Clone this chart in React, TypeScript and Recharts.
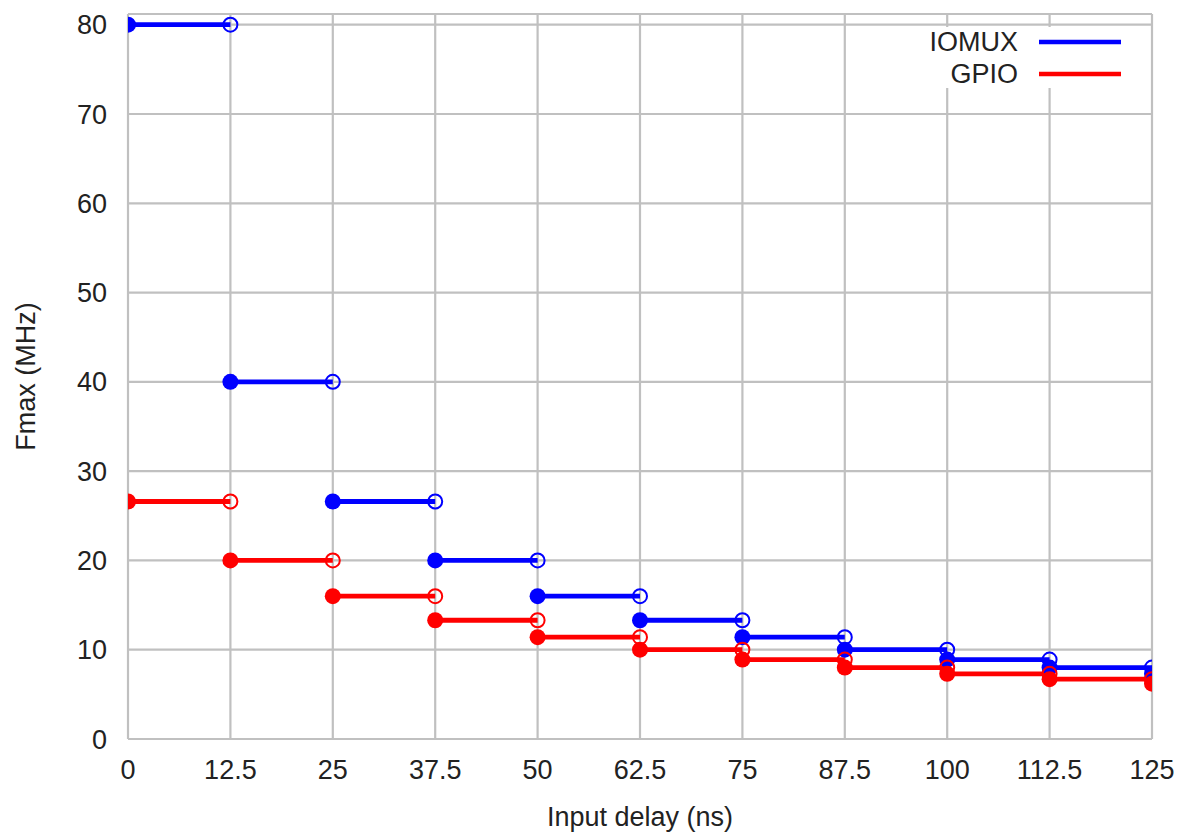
import React from "react";
import { LineChart, Line, XAxis, YAxis, CartesianGrid, Legend, Label } from "recharts";

// Input delay breakpoints (ns)
const delays = [0, 12.5, 25, 37.5, 50, 62.5, 75, 87.5, 100, 112.5, 125];
// Fmax (MHz) starting at each breakpoint
const iomuxFmax = [80, 40, 26.6, 20, 16, 13.3, 11.4, 10, 8.9, 8, 7.3];
const gpioFmax = [26.6, 20, 16, 13.3, 11.4, 10, 8.9, 8, 7.3, 6.7, 6.2];

const xTicks = [0, 12.5, 25, 37.5, 50, 62.5, 75, 87.5, 100, 112.5, 125];
const yTicks = [0, 10, 20, 30, 40, 50, 60, 70, 80];

const seriesNames = ["IOMUX", "GPIO"];
const seriesColors = ["#0000ff", "#ff0000"];

const FONT = "'Liberation Sans', Arial, sans-serif";
const TEXT_COLOR = "#222222";
const FS = 27;

type Pt = { x: number; v: number | null; kind: string };

function buildSteps(values: number[]): Pt[] {
  const out: Pt[] = [];
  const step = delays[1] - delays[0];
  values.forEach((val, i) => {
    const start = delays[i];
    const end = i + 1 < delays.length ? delays[i + 1] : delays[i] + step;
    out.push({ x: start, v: val, kind: "start" });
    out.push({ x: end, v: val, kind: "end" });
    out.push({ x: end, v: null, kind: "gap" });
  });
  return out;
}

const iomuxData = buildSteps(iomuxFmax);
const gpioData = buildSteps(gpioFmax);

function makeDot(color: string, name: string) {
  return (props: any) => {
    const { cx, cy, payload, index } = props;
    const k = `${name}-dot-${index}`;
    if (cx == null || cy == null || !payload || payload.v == null) return <g key={k} />;
    if (payload.kind === "start") {
      return <circle key={k} cx={cx} cy={cy} r={8} fill={color} stroke="none" />;
    }
    if (payload.kind === "end") {
      return <circle key={k} cx={cx} cy={cy} r={7} fill="none" stroke={color} strokeWidth={2} />;
    }
    return <g key={k} />;
  };
}

const LegendBox = () => (
  <svg width={235} height={61} style={{ display: "block" }}>
    {seriesNames.map((n, i) => (
      <g key={n}>
        <text
          x={103}
          y={15 + i * 32}
          textAnchor="end"
          dominantBaseline="central"
          fontFamily={FONT}
          fontSize={FS}
          fill={TEXT_COLOR}
        >
          {n}
        </text>
        <line x1={124} x2={206} y1={15 + i * 32} y2={15 + i * 32} stroke={seriesColors[i]} strokeWidth={4.5} />
      </g>
    ))}
  </svg>
);

export default function App() {
  return (
    <div style={{ position: "absolute", left: 0, top: 0, width: 1179, height: 832, background: "#fff" }}>
      <LineChart width={1179} height={832} margin={{ top: 14, right: 27, bottom: 0, left: 20 }}>
        <CartesianGrid stroke="#c0c0c0" strokeWidth={2.2} />
        <XAxis
          type="number"
          dataKey="x"
          domain={[0, 125]}
          ticks={xTicks}
          allowDataOverflow
          axisLine={false}
          tickLine={false}
          tickSize={0}
          tickMargin={21}
          height={93}
          tick={{ fontFamily: FONT, fontSize: FS, fill: TEXT_COLOR }}
          interval={0}
        >
          <Label
            value="Input delay (ns)"
            position="insideBottom"
            offset={6}
            style={{ fontFamily: FONT, fontSize: FS, fill: TEXT_COLOR }}
          />
        </XAxis>
        <YAxis
          type="number"
          domain={[0, 81.2]}
          ticks={yTicks}
          allowDataOverflow
          axisLine={false}
          tickLine={false}
          tickSize={0}
          tickMargin={21}
          width={108}
          tick={{ fontFamily: FONT, fontSize: FS, fill: TEXT_COLOR }}
          interval={0}
        >
          <Label
            value="Fmax (MHz)"
            angle={-90}
            position="insideLeft"
            offset={5}
            style={{ fontFamily: FONT, fontSize: FS, fill: TEXT_COLOR, textAnchor: "middle" }}
          />
        </YAxis>
        <Legend
          layout="vertical"
          align="center"
          verticalAlign="middle"
          content={() => <LegendBox />}
          wrapperStyle={{ top: 27, left: 915, width: 235, height: 61, backgroundColor: "#fff" }}
        />
        <Line
          data={iomuxData}
          dataKey="v"
          name="IOMUX"
          type="linear"
          stroke={seriesColors[0]}
          strokeWidth={4.8}
          dot={makeDot(seriesColors[0], "iomux")}
          activeDot={false}
          isAnimationActive={false}
          connectNulls={false}
        />
        <Line
          data={gpioData}
          dataKey="v"
          name="GPIO"
          type="linear"
          stroke={seriesColors[1]}
          strokeWidth={4.8}
          dot={makeDot(seriesColors[1], "gpio")}
          activeDot={false}
          isAnimationActive={false}
          connectNulls={false}
        />
      </LineChart>
    </div>
  );
}
